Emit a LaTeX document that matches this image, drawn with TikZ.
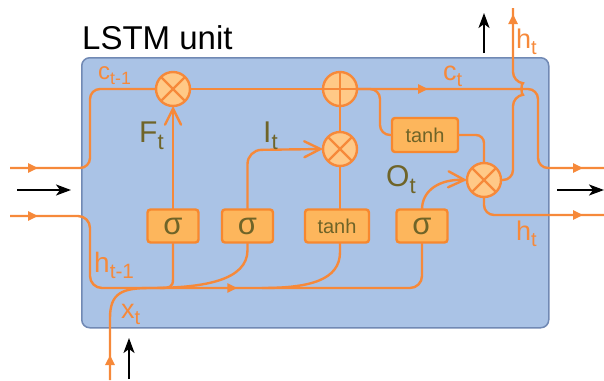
\documentclass[tikz,border=0pt]{standalone}
\usepackage{graphicx}
\usepackage{fontspec}
\setmainfont{Liberation Sans}
\usetikzlibrary{arrows.meta,decorations.markings,calc}

\definecolor{flow}{HTML}{F6893A}
\definecolor{opfill}{HTML}{FFC987}
\definecolor{gatefill}{HTML}{FDB65C}
\definecolor{gateedge}{HTML}{F7882F}
\definecolor{panelfill}{HTML}{AAC3E6}
\definecolor{paneledge}{HTML}{7189B4}
\definecolor{olive}{HTML}{6F6428}

% lowered, reduced index letters for the state labels
\newcommand{\lowsub}[1]{\raisebox{-0.24em}{\scalebox{0.74}{#1}}}

\tikzset{
  flowline/.style={draw=flow, line width=2.4pt},
  opcircle/.style={circle, draw=flow, fill=opfill, line width=2.4pt,
    minimum size=34pt, inner sep=0pt, outer sep=0pt},
  gatebox/.style={rectangle, rounded corners=3pt, draw=gateedge, fill=gatefill,
    line width=2.4pt, minimum height=33pt, inner sep=0pt, outer sep=0pt, text=olive},
  sigmatext/.style={font=\fontsize{31}{33}\selectfont},
  tanhtext/.style={font=\fontsize{20}{22}\selectfont},
  flowtip/.style={postaction={decorate, decoration={markings,
    mark=at position #1 with {\arrow{Triangle[length=10pt,width=9pt]}}}}},
  barb/.style={-{Straight Barb[length=16pt,width=16pt,line cap=round]}},
  blackarrow/.style={draw=black, line width=2pt, -{Stealth[length=15pt,width=11pt,inset=4pt]}},
  flowlabel/.style={text=flow, anchor=base west, inner sep=0pt, font=\fontsize{27}{29}\selectfont},
  gatelabel/.style={text=olive, anchor=base west, inner sep=0pt, font=\fontsize{30}{32}\selectfont},
}

\begin{document}
\begin{tikzpicture}[x=1pt, y=-1pt]
\useasboundingbox (0,0) rectangle (604,380);

% unit panel and title
\node[draw=paneledge, fill=panelfill, rounded corners=8pt, line width=1.5pt,
  minimum width=467pt, minimum height=270pt, anchor=north west, inner sep=0pt] (panel) at (81,57) {};
\node[anchor=base west, inner sep=0pt, font=\fontsize{33}{36}\selectfont] (title) at (82,49) {LSTM unit};

% free ends of the connectors
\coordinate (cin) at (10,168);
\coordinate (hin) at (10,216);
\coordinate (xin) at (110,380);
\coordinate (cout) at (604,168);
\coordinate (hout) at (604,215);
\coordinate (hup) at (513,8);

% gates
\node[gatebox, minimum width=51pt, sigmatext] (gf) at (173,226) {σ};
\node[gatebox, minimum width=51pt, sigmatext] (gi) at (247.5,226) {σ};
\node[gatebox, minimum width=64pt, tanhtext] (gc) at (337,226) {tanh};
\node[gatebox, minimum width=51pt, sigmatext] (go) at (422,226) {σ};
\node[gatebox, minimum width=66pt, minimum height=34pt, tanhtext] (tc) at (425,135) {tanh};

% cell state path
\draw[flowline, rounded corners=10pt, flowtip=28pt] (cin) -- (90,168) -- (90,89) -- (173,89);
\draw[flowline] (173,89) -- (340,89);
\draw[flowline, rounded corners=10pt] (340,89) -- (380,89) -- (380,135) -- (tc.west);
\draw[flowline, rounded corners=10pt, flowtip=88pt, flowtip=-21pt] (340,89) -- (538,89) -- (538,168) -- (cout);

% hidden state and input path
\draw[flowline, rounded corners=12pt, flowtip=28pt, flowtip=289pt] (hin) -- (90,216) -- (90,288) -- (422,288) -- (go.south);
\draw[flowline, flowtip=25pt] (xin) -- (110,318) .. controls (110,293) and (122,288) .. (150,288);
\draw[flowline] (gf.south) -- (173,279) .. controls (173,287) and (170,288) .. (160,288);
\draw[flowline] (gi.south) -- (247.5,250) .. controls (247.5,280) and (205,288) .. (150,288);
\coordinate (gcbot) at (340,243);
\coordinate (gctop) at (340,209.5);
\draw[flowline] (gcbot) -- (340,252) .. controls (340,280) and (310,288) .. (262,288);

% operations
\node[opcircle] (fm) at (173,89) {};
\node[opcircle] (pl) at (340,89) {};
\node[opcircle] (im) at (340,149) {};
\node[opcircle] (om) at (484,180) {};
\foreach \n in {fm,im,om} {
  \draw[flow, line width=2.2pt] (\n.north west) -- (\n.south east);
  \draw[flow, line width=2.2pt] (\n.north east) -- (\n.south west);
}
\draw[flow, line width=2.2pt] (pl.north) -- (pl.south);
\draw[flow, line width=2.2pt] (pl.west) -- (pl.east);

% gate outputs
\draw[flowline, barb] (gf.north) -- (fm.south);
\draw[flowline, barb, rounded corners=14pt] (gi.north) -- (247.5,150) -- (im.west);
\draw[flowline] (gctop) -- (im.south);
\draw[flowline] (im.north) -- (pl.south);
\draw[flowline, rounded corners=8pt] (tc.east) -- (484,135) -- (om.north);
\draw[flowline, barb] (go.north) .. controls (422,190) and (440,179) .. (om.west);

% outputs of the unit
\draw[flowline, rounded corners=10pt, flowtip=-21pt] (om.south) -- (484,215) -- (hout);
\draw[flowline, rounded corners=10pt, flowtip=-6pt] (om.east) -- (513,180) -- (513,96)
  .. controls (521,95) and (521,83) .. (513,82) -- (hup);

% data direction arrows
\coordinate (a1s) at (17,190);  \coordinate (a1e) at (71,190);
\coordinate (a2s) at (557,190); \coordinate (a2e) at (604,190);
\coordinate (a3s) at (129,379); \coordinate (a3e) at (129,338);
\coordinate (a4s) at (484,53);  \coordinate (a4e) at (484,13);
\draw[blackarrow] (a1s) -- (a1e);
\draw[blackarrow] (a2s) -- (a2e);
\draw[blackarrow] (a3s) -- (a3e);
\draw[blackarrow] (a4s) -- (a4e);

% labels
\node[flowlabel, font=\fontsize{24}{26}\selectfont] (lc0) at (98,79) {c\lowsub{t-1}};
\node[flowlabel] (lc1) at (443,80) {c\lowsub{t}};
\node[flowlabel] (lh1) at (516,48) {h\lowsub{t}};
\node[flowlabel] (lh2) at (516,240) {h\lowsub{t}};
\node[flowlabel, font=\fontsize{28}{30}\selectfont] (lh0) at (94,272) {h\lowsub{t-1}};
\node[flowlabel] (lx) at (121,318) {x\lowsub{t}};
\node[gatelabel] (lf) at (139,142) {F\lowsub{t}};
\node[gatelabel] (li) at (263,142) {I\lowsub{t}};
\node[gatelabel] (lo) at (386,186) {O\lowsub{t}};
\end{tikzpicture}
\end{document}
